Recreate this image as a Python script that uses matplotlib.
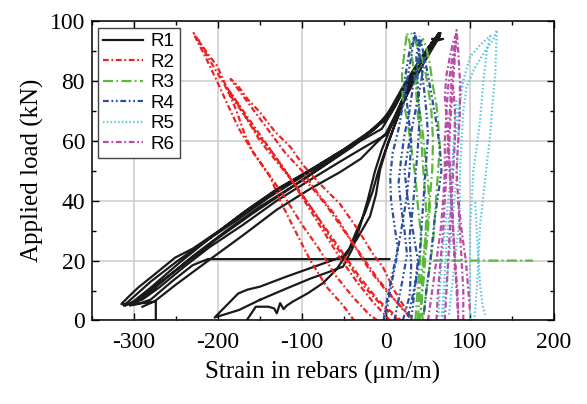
import numpy as np
import matplotlib.pyplot as plt
from matplotlib.ticker import MultipleLocator

plt.rcParams["axes.unicode_minus"] = False

# strain (um/m), load (kN); each list is one stretch of the trace
r1_pieces = [
    [(-166, 0), (-155, 4.6), (-140, 4.6), (-133, 4.0), (-130, 2.4), (-126, 5.8), (-122, 3.8),
     (-118, 5.0), (-111, 6.3), (-93, 9.1), (-75, 12.5), (-59, 17), (-45, 23), (-35, 30),
     (-25, 36), (-16, 43), (-9, 50), (-3, 55), (2, 59), (10, 65), (20, 72), (30, 79),
     (40, 86), (52, 91), (62, 95)],
    [(62, 95), (50, 91), (35, 84), (18, 76), (0, 67), (-20, 63), (-51, 57), (-98, 49),
     (-132, 43.5), (-170, 36), (-196, 30.5), (-230, 24), (-251, 21), (-275, 15.5), (-295, 11),
     (-308, 7.5), (-315, 5.5), (-305, 5.5), (-290, 7), (-270, 11), (-240, 18), (-210, 24.5),
     (-170, 32), (-130, 40), (-90, 47), (-55, 53), (-25, 58), (0, 62), (15, 70), (30, 78),
     (45, 86), (60, 93), (65, 96), (55, 93), (30, 82), (10, 72), (-10, 65), (-40, 58),
     (-80, 50.5), (-120, 43), (-160, 35.5), (-200, 27.5), (-240, 19), (-270, 12.5), (-292, 8),
     (-305, 5), (-295, 5.5), (-280, 7), (-255, 13), (-230, 18.5), (-212, 20.5), (-150, 20.5),
     (-50, 20.5), (4, 20.5)],
    [(-290, 4.6), (-275, 6.5), (-250, 12), (-210, 20.3), (-170, 28.5), (-130, 37), (-90, 44),
     (-55, 49.5), (-30, 54), (-14, 58.6), (0, 62.5), (10, 68), (25, 77), (45, 88), (63, 96),
     (58, 94), (40, 87), (20, 78), (0, 68), (-30, 60.5), (-70, 52.5), (-110, 45), (-150, 38),
     (-190, 30), (-230, 21.5), (-260, 14.5), (-285, 8.5), (-300, 6)],
    [(-312, 5), (-300, 8), (-280, 13), (-250, 19.5), (-220, 25.5), (-180, 33), (-140, 41),
     (-100, 48), (-60, 55), (-30, 60), (-5, 64), (12, 72), (30, 82), (50, 91), (64, 95),
     (50, 90), (25, 79), (5, 69), (-15, 63.5), (-45, 58), (-85, 51), (-125, 44.5), (-165, 37),
     (-205, 28.5), (-245, 19.5), (-280, 11), (-300, 6.5), (-310, 5)],
    [(-300, 5.5), (-274, 6.3), (-274, 0), (-293, 0)],
    [(-150, 6.9), (-175, 3.5), (-204, 1), (-190, 5), (-176, 9), (-165, 10.3), (-150, 11.3),
     (-120, 14.5), (-90, 17.5), (-70, 19.5), (-51, 21.4), (-35, 27), (-19, 34.8), (-12, 42),
     (-7, 50.4), (0, 57), (10, 65), (22, 74), (38, 85), (55, 93), (68, 94), (55, 94)],
    [(-150, 6.9), (-120, 10.5), (-90, 14), (-70, 16), (-51, 18), (-40, 24), (-31, 31.4),
     (-22, 40), (-13, 50), (-5, 57), (5, 64), (20, 74), (40, 86), (58, 94)],
]

r2_pieces = [
    [(15, 0), (-5, 5), (-25, 11), (-45, 19), (-65, 27), (-85, 36), (-105, 44), (-125, 52),
     (-145, 60), (-160, 66), (-190, 78), (-178, 73), (-165, 67), (-150, 60), (-130, 53),
     (-110, 46), (-90, 38), (-70, 30), (-50, 22), (-30, 14), (-10, 7), (10, 2), (18, 0)],
    [(28, 1), (20, 4), (0, 10), (-20, 17), (-40, 26), (-60, 35), (-80, 42), (-100, 50),
     (-120, 56), (-185, 80.6), (-176, 78.3), (-165, 74), (-150, 69.5), (-132, 63), (-114, 58),
     (-99, 52), (-80, 46), (-55, 39), (-35, 31), (-15, 22), (-4, 18), (10, 10), (25, 3), (30, 1)],
    [(-10, 0), (-20, 2), (-40, 8), (-60, 15), (-80, 24), (-100, 32), (-120, 41), (-140, 49),
     (-160, 57), (-175, 64), (-190, 73), (-203, 81), (-215, 88), (-226, 94), (-229, 96),
     (-222, 93), (-212, 89), (-201, 85), (-190, 78), (-178, 70), (-168, 62), (-158, 56),
     (-148, 52), (-138, 48), (-126, 40), (-110, 31), (-90, 20), (-70, 11), (-51, 5), (-38, 0)],
    [(5, 0), (-15, 6), (-35, 13), (-55, 21), (-75, 30), (-95, 39), (-115, 48), (-135, 56),
     (-155, 63), (-172, 70), (-185, 75), (-195, 80), (-208, 86), (-218, 91), (-224, 94)],
    [(-100, 47), (-90, 45), (-70, 38), (-50, 30), (-30, 22), (-10, 14), (10, 7), (22, 3)],
]

r3_pieces = [
    [(35, 0), (37, 8), (40, 18), (42, 28), (38, 38), (35, 48), (30, 58), (26, 66), (20, 74),
     (19, 82), (22, 90), (25, 96), (28, 93), (32, 86), (36, 78), (40, 70), (44, 62), (47, 54),
     (50, 46), (52, 38), (50, 30), (47, 22), (45, 14), (42, 6), (40, 0)],
    [(45, 2), (48, 10), (52, 18), (56, 26), (58, 34), (60, 42), (62, 50), (64, 58), (62, 66),
     (60, 72), (56, 78), (52, 86), (48, 91), (44, 94), (40, 92), (38, 85), (36, 76), (38, 68),
     (42, 60), (44, 52), (46, 44), (48, 36), (47, 28), (45, 20), (43, 12), (42, 4), (44, 0)],
    [(38, 0), (40, 10), (44, 20), (48, 30), (52, 40), (55, 50), (56, 60), (54, 70), (50, 78),
     (45, 86), (35, 93), (30, 96)],
    [(56, 20), (100, 20), (140, 20), (175, 20)],
]

r4_pieces = [
    [(-3, 0), (2, 8), (8, 16), (14, 24), (10, 32), (6, 40), (5, 48), (8, 56), (15, 64),
     (20, 72), (25, 80), (30, 88), (34, 96), (38, 92), (42, 85), (45, 78), (48, 70), (50, 62),
     (48, 54), (46, 46), (44, 38), (42, 30), (40, 22), (36, 14), (30, 6), (25, 0)],
    [(10, 0), (15, 7), (20, 14), (25, 22), (22, 30), (18, 38), (15, 46), (18, 54), (22, 62),
     (28, 70), (32, 78), (38, 86), (41, 94), (44, 90), (50, 82), (55, 74), (60, 66), (64, 58),
     (66, 50), (62, 42), (58, 34), (55, 26), (52, 18), (48, 10), (45, 2)],
    [(20, 0), (28, 8), (30, 18), (28, 28), (32, 38), (35, 48), (38, 58), (40, 68), (38, 78),
     (36, 88), (40, 95)],
    [(0, 2), (5, 10), (12, 20), (18, 30), (24, 40), (28, 50), (30, 60), (26, 70), (22, 80),
     (28, 90), (36, 96)],
    [(30, 0), (34, 10), (38, 20), (32, 30), (26, 40), (22, 50), (28, 60), (35, 70), (42, 80),
     (46, 88)],
]

r5_pieces = [
    [(62, 0), (64, 10), (66, 20), (70, 30), (74, 40), (78, 50), (82, 60), (86, 70), (92, 80),
     (100, 88), (112, 92), (124, 95), (120, 90), (116, 80), (112, 67), (108, 58), (104, 50),
     (102, 40), (100, 30), (100, 20), (100, 10), (100, 0)],
    [(75, 2), (78, 10), (82, 20), (86, 30), (88, 40), (88, 50), (90, 60), (92, 70), (96, 78),
     (105, 84), (118, 90), (128, 94), (132, 97), (131, 90), (130, 82), (127, 73), (124, 62),
     (120, 52), (116, 42), (112, 32), (110, 21), (112, 12), (115, 5), (118, 2)],
    [(66, 0), (68, 8), (70, 16), (72, 26), (76, 36), (78, 46), (80, 56), (82, 66), (84, 74)],
    [(68, 0), (72, 12), (76, 24), (80, 36), (84, 48), (86, 60), (88, 72), (90, 80)],
    [(105, 0), (108, 10), (110, 20), (108, 30), (106, 40)],
]

r6_pieces = [
    [(50, 0), (55, 10), (60, 20), (65, 30), (68, 40), (70, 50), (70, 60), (72, 70), (74, 78),
     (78, 86), (82, 92), (84, 97), (86, 90), (88, 80), (88, 70), (86, 60), (84, 50), (86, 40),
     (90, 30), (95, 20), (98, 10), (100, 3)],
    [(86, 0), (85, 10), (82, 20), (80, 30), (78, 40), (76, 50), (74, 60), (72, 68), (70, 75),
     (72, 82), (76, 88), (80, 93), (83, 95), (82, 88), (80, 80), (78, 72), (76, 64), (75, 56),
     (76, 48), (78, 40), (80, 30), (82, 20), (84, 10), (86, 2)],
    [(70, 0), (72, 10), (74, 20), (76, 30), (78, 40), (80, 50), (82, 60), (82, 70), (80, 78)],
    [(60, 0), (62, 10), (65, 20), (68, 30), (70, 40), (72, 50), (74, 60), (76, 70), (78, 80),
     (82, 90), (84, 95)],
    [(92, 0), (92, 10), (90, 20), (88, 30), (86, 40)],
]

labels = ["R1", "R2", "R3", "R4", "R5", "R6"]
colors = ["#1a1a1a", "#ee2222", "#5cb83c", "#2a4fa0", "#5ec8dc", "#b84ea8"]
styles = ["-", (0, (2.6, 1.2, 0.8, 1.2)), (0, (4.5, 1.5, 0.8, 1.5)),
          (0, (2.6, 1.2, 0.8, 1.2, 0.8, 1.2)), (0, (0.7, 1.0)), (0, (2.6, 1.2, 0.8, 1.2))]


def join(pieces):
    xs, ys = [], []
    for p in pieces:
        for x, y in p:
            xs.append(x)
            ys.append(y)
        xs.append(np.nan)
        ys.append(np.nan)
    return xs, ys


fig = plt.figure(figsize=(5.87, 4.04), dpi=100)
ax = fig.add_axes([0.1567, 0.2067, 0.9438 - 0.1567, 0.948 - 0.2067])

allp = [r1_pieces, r2_pieces, r3_pieces, r4_pieces, r5_pieces, r6_pieces]
for i in range(6):
    x, y = join(allp[i])
    ax.plot(x, y, color=colors[i], ls=styles[i], lw=1.6, label=labels[i])

ax.set_xlim(-350, 200)
ax.set_ylim(0, 100)
ax.xaxis.set_major_locator(MultipleLocator(100))
ax.xaxis.set_minor_locator(MultipleLocator(50))
ax.yaxis.set_major_locator(MultipleLocator(20))
ax.yaxis.set_minor_locator(MultipleLocator(10))
ax.grid(True, which="major", color="#cccccc", lw=1.1)
ax.set_axisbelow(True)
ax.tick_params(which="both", direction="in", top=True, right=True, width=1)
ax.tick_params(which="major", length=5)
ax.tick_params(which="minor", length=3)
ax.tick_params(axis="x", pad=8)
ax.tick_params(axis="y", pad=5)
for s in ax.spines.values():
    s.set_linewidth(1.1)

for t in ax.get_xticklabels() + ax.get_yticklabels():
    t.set_fontfamily("Liberation Serif")
    t.set_fontsize(17)

ax.set_xlabel("Strain in rebars (\u03bcm/m)", fontsize=18, family="Liberation Serif", labelpad=6)
ax.set_ylabel("Applied load (kN)", fontsize=18, family="Liberation Serif", labelpad=4)

leg = ax.legend(loc="upper left", bbox_to_anchor=(0.012, 0.978), borderaxespad=0,
                prop={"family": "Liberation Sans", "size": 13.5}, fancybox=False,
                edgecolor="#444444", framealpha=1, handlelength=2.1, handletextpad=0.4,
                labelspacing=0.18, borderpad=0.3)
leg.get_frame().set_linewidth(1.0)

fig.savefig("out.png", dpi=100)
